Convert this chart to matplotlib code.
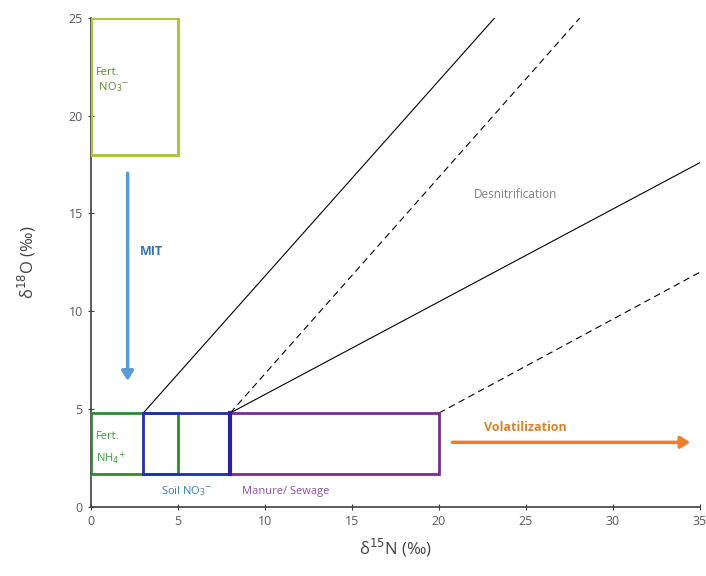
import matplotlib.pyplot as plt
from matplotlib.patches import Rectangle

plt.rcParams['font.family'] = ['Open Sans', 'DejaVu Sans']

# source boxes: (label, x0, x1, y0, y1, colour, linewidth)
boxes = [
    ("Fert. NO3", 0, 5, 18, 25, "#a9c63c", 2.2),
    ("Fert. NH4", 0, 5, 1.7, 4.8, "#2e8b2e", 2.0),
    ("Manure", 8, 20, 1.7, 4.8, "#7b2c8f", 2.0),
    ("Soil NO3", 3, 8, 1.7, 4.8, "#1f2fa8", 2.0),
]

# denitrification lines: (x0, y0, x1, y1, style)
den_lines = [
    (3, 4.8, 23.2, 25, "-"),
    (8, 4.8, 28.1, 25, "--"),
    (8, 4.8, 35, 17.6, "-"),
    (20, 4.8, 35, 12.0, "--"),
]

fig = plt.figure(figsize=(7.06, 5.76), dpi=100)
ax = fig.add_axes([0.129, 0.12, 0.8625, 0.849])

for name, x0, x1, y0, y1, c, lw in boxes:
    ax.add_patch(Rectangle((x0, y0), x1 - x0, y1 - y0, fill=False,
                           edgecolor=c, linewidth=lw, zorder=3))
# thicker divider between soil and manure
ax.plot([8, 8], [1.7, 4.8], color="#2a1fb0", lw=3, zorder=4)

for x0, y0, x1, y1, ls in den_lines:
    ax.plot([x0, x1], [y0, y1], color="black", lw=0.8, ls=ls,
            dashes=(6, 4) if ls == "--" else (None, None), zorder=2)

# process arrows
ax.annotate("", xy=(2.1, 6.3), xytext=(2.1, 17.2),
            arrowprops=dict(arrowstyle="-|>,head_width=0.25", color="#5b9bd5",
                            lw=2.5, mutation_scale=14))
ax.annotate("", xy=(34.6, 3.3), xytext=(20.6, 3.3),
            arrowprops=dict(arrowstyle="-|>,head_width=0.25", color="#ed7d31",
                            lw=2.5, mutation_scale=14))

ax.text(2.8, 12.9, "MIT", color="#2e75b6", fontsize=9, fontweight="bold")
ax.text(22.6, 3.9, "Volatilization", color="#d9822b", fontsize=9,
        fontweight="bold")
ax.text(22.0, 15.8, "Desnitrification", color="#7f7f7f", fontsize=8.5)
ax.text(0.3, 21.8, "Fert.\n NO$_3$$^{-}$", color="#5a8a2a", fontsize=8,
        linespacing=1.3, va="center")
ax.text(0.3, 2.3, "Fert.\nNH$_4$$^{+}$", color="#3f9a3f", fontsize=8,
        linespacing=1.6)
ax.text(4.0, 0.65, "Soil NO$_3$$^{-}$", color="#3a7fb0", fontsize=8)
ax.text(8.7, 0.65, "Manure/ Sewage", color="#8e4fa8", fontsize=8)

ax.set_xlim(0, 35)
ax.set_ylim(0, 25)
ax.set_xticks([0, 5, 10, 15, 20, 25, 30, 35])
ax.set_yticks([0, 5, 10, 15, 20, 25])
ax.tick_params(direction="inout", length=5, labelsize=9,
               labelcolor="#595959", colors="#404040")
for s in ["top", "right"]:
    ax.spines[s].set_visible(False)
for s in ["left", "bottom"]:
    ax.spines[s].set_color("#404040")
    ax.spines[s].set_linewidth(1.2)

ax.set_xlabel("δ$^{15}$N (‰)", fontsize=12, color="#404040", labelpad=6)
ax.set_ylabel("δ$^{18}$O (‰)", fontsize=12, color="#404040", labelpad=22)

fig.savefig("out.png", dpi=100)
